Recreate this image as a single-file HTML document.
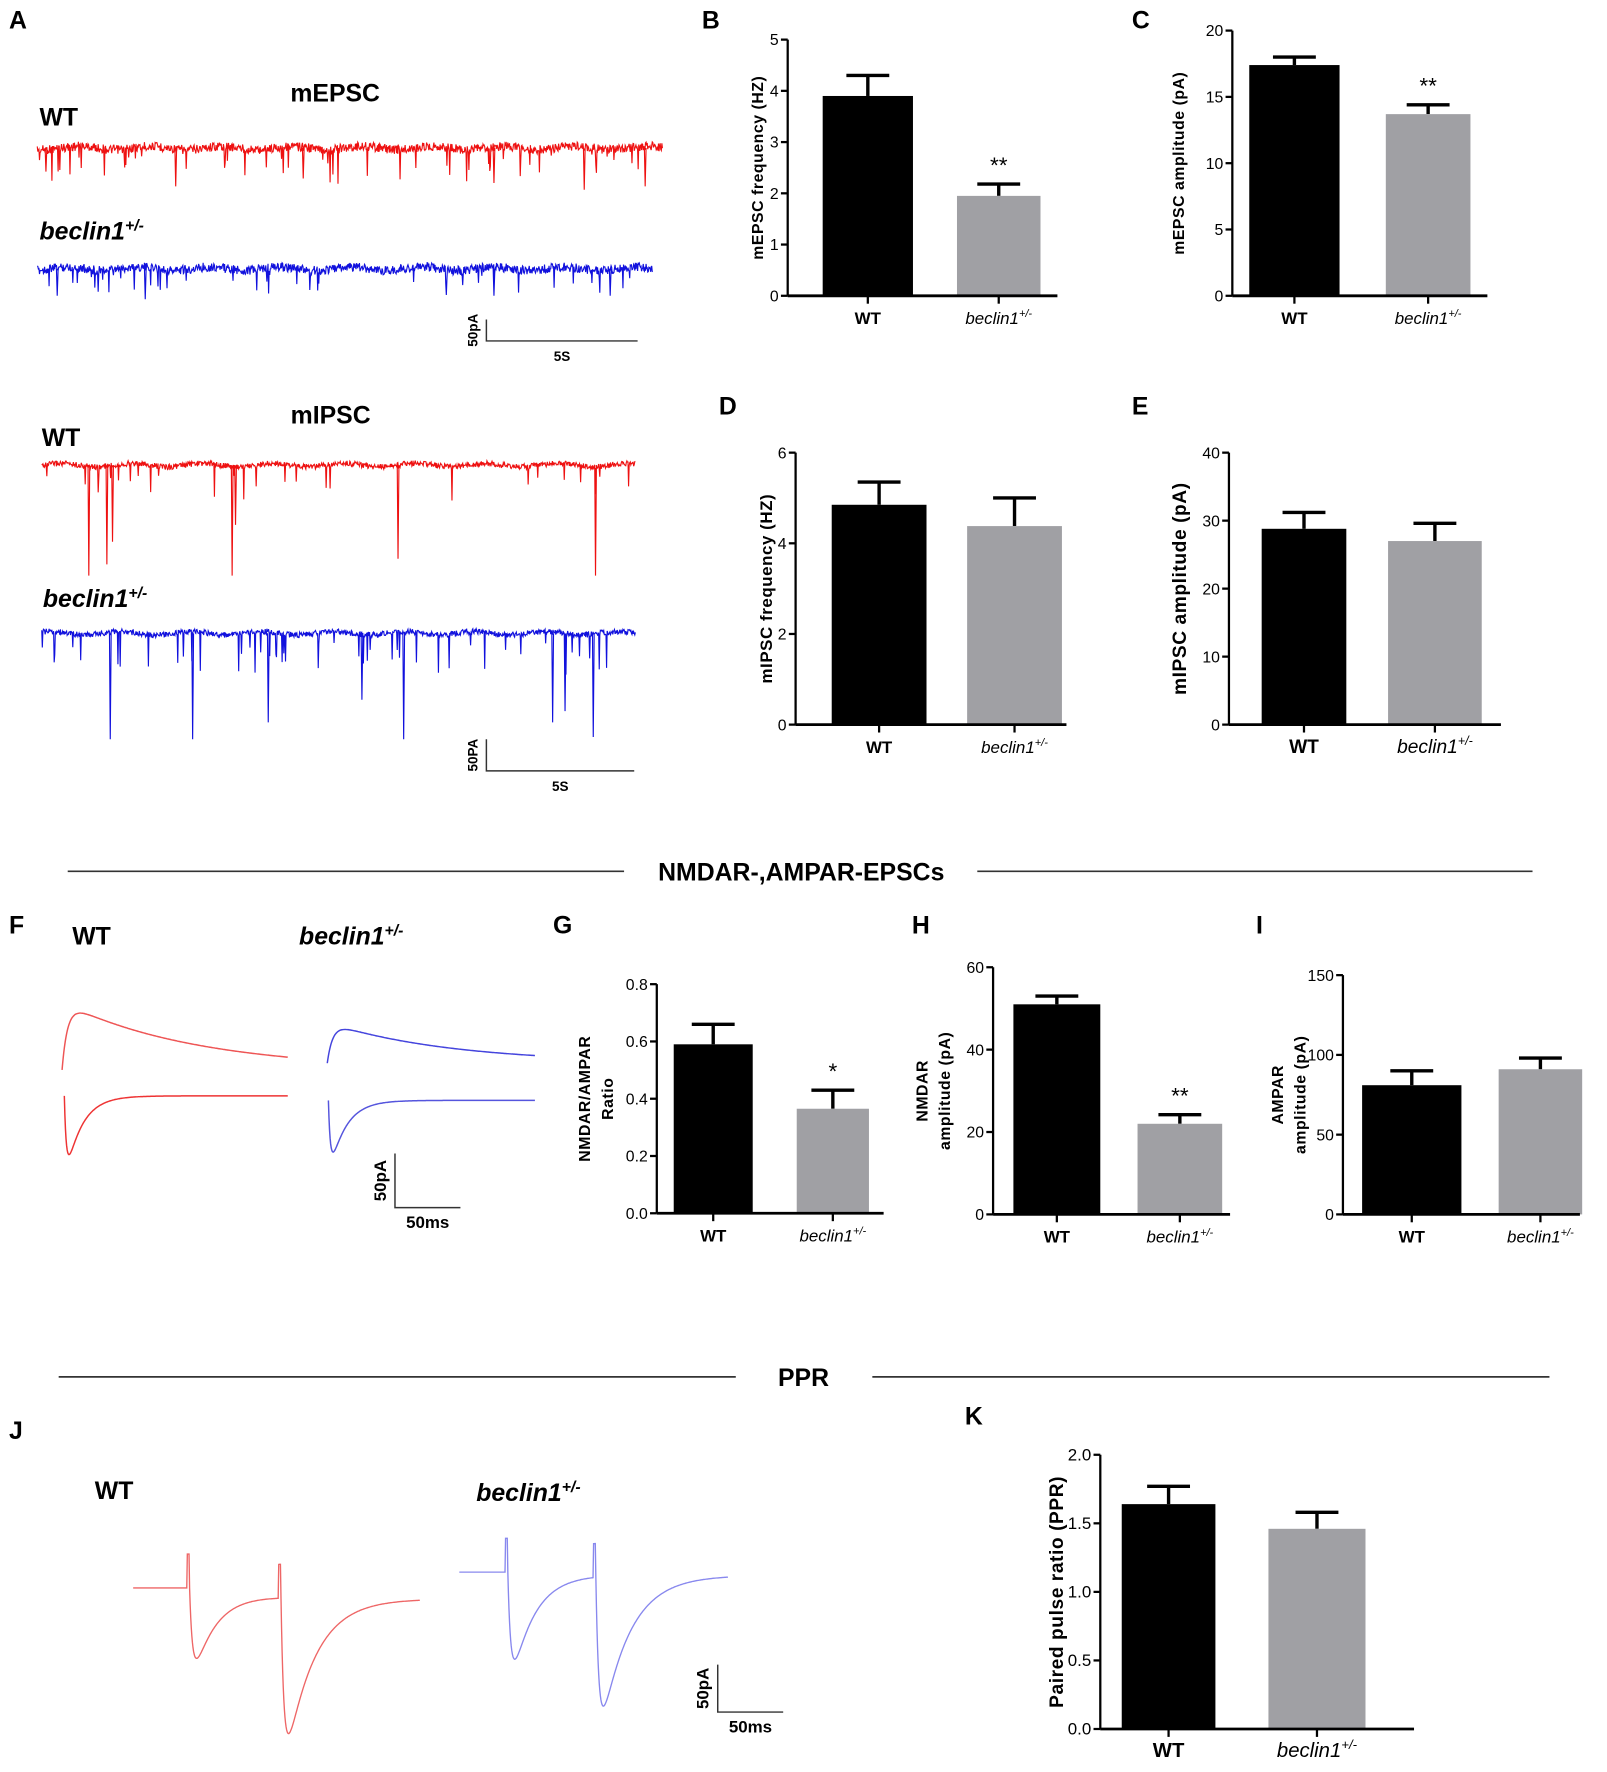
<!DOCTYPE html>
<html><head><meta charset="utf-8"><style>
html,body{margin:0;padding:0;background:#fff;}
svg{display:block;}
text{font-family:"Liberation Sans Narrow","Liberation Sans",sans-serif;}
</style></head><body>
<svg id="fig" width="1607" height="1772" viewBox="0 0 1424 1570" xmlns="http://www.w3.org/2000/svg"></svg>
<script>
// ---- data ----
const categories = ["WT", "beclin1"];
const mepscFreq = [3.9, 1.95];       const mepscFreqErr = [4.3, 2.18];
const mepscAmp = [17.4, 13.7];       const mepscAmpErr = [18.0, 14.4];
const mipscFreq = [4.85, 4.38];      const mipscFreqErr = [5.35, 5.0];
const mipscAmp = [28.8, 27.0];       const mipscAmpErr = [31.2, 29.6];
const nmdaRatio = [0.59, 0.365];     const nmdaRatioErr = [0.66, 0.43];
const nmdaAmp = [51, 22];            const nmdaAmpErr = [53, 24.2];
const ampaAmp = [81, 91];            const ampaAmpErr = [90, 98];
const pprVals = [1.64, 1.46];        const pprErr = [1.77, 1.58];
const ticksB = ["0","1","2","3","4","5"];
const ticksC = ["0","5","10","15","20"];
const ticksD = ["0","2","4","6"];
const ticksE = ["0","10","20","30","40"];
const ticksG = ["0.0","0.2","0.4","0.6","0.8"];
const ticksH = ["0","20","40","60"];
const ticksI = ["0","50","100","150"];
const ticksK = ["0.0","0.5","1.0","1.5","2.0"];

const svg = document.getElementById('fig');
const NS = "http://www.w3.org/2000/svg";
function el(tag, attrs, parent){const e=document.createElementNS(NS,tag);for(const k in attrs)e.setAttribute(k,attrs[k]);(parent||svg).appendChild(e);return e;}
function txt(s, x, y, size, opts, parent){
  opts=opts||{};
  const t=el('text',{x:x,y:y,'font-size':size,'text-anchor':opts.anchor||'start','font-weight':opts.weight||'bold',fill:'#000'},parent);
  if(opts.italic)t.setAttribute('font-style','italic');
  if(opts.family)t.setAttribute('font-family',opts.family);
  if(opts.rot)t.setAttribute('transform','rotate(-90 '+x+' '+y+')');
  t.textContent=s;return t;
}
function beclin(x,y,size,parent,family){
  const t=txt('beclin1',x,y,size,{italic:true,anchor:'middle',weight:'normal',family:family},parent);
  const ts=document.createElementNS(NS,'tspan');ts.setAttribute('dy',-size*0.4);ts.setAttribute('font-size',size*0.65);ts.textContent='+/-';t.appendChild(ts);
  return t;
}

function barChart(cfg){
  const g=el('g',{});
  
  
  const maxV=parseFloat(cfg.ticks[cfg.ticks.length-1]);
  const y=v=>cfg.yBot-(v/maxV)*(cfg.yBot-cfg.yTop);
  const fam=cfg.serif?'"Liberation Serif",serif':undefined;
  cfg.values.forEach((v,i)=>{
    const b=cfg.bars[i];
    const cx=(b[0]+b[1])/2;
    const eb=el('g',{},g);
    
    
    el('line',{x1:cx,x2:cx,y1:y(v),y2:y(cfg.errs[i]),stroke:'#000','stroke-width':3},eb);
    el('line',{x1:cx-19,x2:cx+19,y1:y(cfg.errs[i]),y2:y(cfg.errs[i]),stroke:'#000','stroke-width':3},eb);
    const r=el('rect',{x:b[0],y:y(v),width:b[1]-b[0],height:cfg.yBot-y(v),fill:i==0?'#000':'#a0a0a4'},g);
    
    
    if(i==1&&cfg.stars){txt(cfg.stars,cx,y(cfg.errs[i])-10,20,{anchor:'middle',weight:'normal'},g);}
    el('line',{x1:cx,x2:cx,y1:cfg.yBot,y2:cfg.yBot+7,stroke:'#000','stroke-width':2},g);
    if(i==0)txt('WT',cx,cfg.yBot+25,cfg.xls||15,{anchor:'middle',family:fam},g);
    else beclin(cx,cfg.yBot+25,cfg.xls||15,g,fam);
  });
  const ya=el('g',{},g);
  
  
  el('line',{x1:cfg.x0,x2:cfg.x0,y1:cfg.yTop,y2:cfg.yBot,stroke:'#000','stroke-width':2},ya);
  cfg.ticks.forEach(t=>{const v=parseFloat(t);el('line',{x1:cfg.x0-6,x2:cfg.x0,y1:y(v),y2:y(v),stroke:'#000','stroke-width':2},ya);txt(t,cfg.x0-8,y(v)+5,cfg.tls||14,{anchor:'end',weight:'normal'},ya);});
  const xa=el('line',{x1:cfg.x0,x2:cfg.xEnd,y1:cfg.yBot,y2:cfg.yBot,stroke:'#000','stroke-width':2.5},g);
  
  
  const cy=(cfg.yTop+cfg.yBot)/2;
  cfg.ylabel.forEach((l,k)=>{
    const t=txt(l,cfg.ylx+k*20,cy,cfg.yls||14,{anchor:'middle',rot:true,family:cfg.serif?'"Liberation Serif",serif':'"Liberation Sans",sans-serif'},g);
    t.setAttribute('letter-spacing','0.5');
    
    
  });
}

[['A',8,25],['B',622,25],['C',1003,25],['D',637,367],['E',1003,367],['F',8,827],['G',490,827],['H',808,827],['I',1113,827],['J',8,1275],['K',855,1262]].forEach(p=>{
  const t=txt(p[0],p[1],p[2],22,{});
  
  
});

barChart({name:'chart-b-mepsc-frequency',values:mepscFreq,errs:mepscFreqErr,ticks:ticksB,x0:698,yTop:35,yBot:262,xEnd:937,bars:[[729,809],[848,922]],stars:'**',ylabel:['mEPSC frequency (HZ)'],ylx:676});
barChart({name:'chart-c-mepsc-amplitude',values:mepscAmp,errs:mepscAmpErr,ticks:ticksC,x0:1092,yTop:27,yBot:262,xEnd:1318,bars:[[1107,1187],[1228,1303]],stars:'**',ylabel:['mEPSC amplitude (pA)'],ylx:1049});
barChart({name:'chart-d-mipsc-frequency',values:mipscFreq,errs:mipscFreqErr,ticks:ticksD,x0:705,yTop:401,yBot:642,xEnd:945,bars:[[737,821],[857,941]],ylabel:['mIPSC frequency (HZ)'],ylx:684,yls:15});
barChart({name:'chart-e-mipsc-amplitude',values:mipscAmp,errs:mipscAmpErr,ticks:ticksE,x0:1089,yTop:401,yBot:642,xEnd:1330,bars:[[1118,1193],[1230,1313]],ylabel:['mIPSC amplitude (pA)'],ylx:1051,serif:true,yls:17,xls:17});
barChart({name:'chart-g-nmdar-ampar-ratio',values:nmdaRatio,errs:nmdaRatioErr,ticks:ticksG,x0:582,yTop:872,yBot:1075,xEnd:783,bars:[[597,667],[706,770]],stars:'*',ylabel:['NMDAR/AMPAR','Ratio'],ylx:523,tls:14,xls:15});
barChart({name:'chart-h-nmdar-amplitude',values:nmdaAmp,errs:nmdaAmpErr,ticks:ticksH,x0:880,yTop:857,yBot:1076,xEnd:1090,bars:[[898,975],[1008,1083]],stars:'**',ylabel:['NMDAR','amplitude (pA)'],ylx:822});
barChart({name:'chart-i-ampar-amplitude',values:ampaAmp,errs:ampaAmpErr,ticks:ticksI,x0:1190,yTop:864,yBot:1076,xEnd:1400,bars:[[1207,1295],[1328,1402]],ylabel:['AMPAR','amplitude (pA)'],ylx:1137,serif:true,tls:14});
barChart({name:'chart-k-paired-pulse-ratio',values:pprVals,errs:pprErr,ticks:ticksK,x0:975,yTop:1289,yBot:1532,xEnd:1253,bars:[[994,1077],[1124,1210]],ylabel:['Paired pulse ratio (PPR)'],ylx:942,yls:17,tls:15,xls:18});

function divider(name,x1,x2,x3,x4,yy,label,cx,size,fam){
  const g=el('g',{});
  el('line',{x1:x1,x2:x2,y1:yy,y2:yy,stroke:'#333','stroke-width':1.5},g);
  el('line',{x1:x3,x2:x4,y1:yy,y2:yy,stroke:'#333','stroke-width':1.5},g);
  txt(label,cx,yy+8,size,{anchor:'middle',family:fam},g);
}
divider('nmdar-ampar-section-divider',60,553,866,1358,772,'NMDAR-,AMPAR-EPSCs',710,22);
divider('ppr-section-divider',52,652,773,1373,1220,'PPR',712,22,'"Liberation Serif",serif');

[['mEPSC',297,90,22,'middle'],['WT',35,111,22,'start'],['mIPSC',293,375,22,'middle'],['WT',37,395,22,'start'],['WT',64,837,22,'start'],['WT',84,1328,22,'start']].forEach(l=>{
  const t=txt(l[0],l[1],l[2],l[3],{anchor:l[4]});
  
  
});
[[35,212],[38,538],[265,837],[422,1330]].forEach(p=>{
  const t=txt('beclin1',p[0],p[1],22,{italic:true});
  const ts=document.createElementNS(NS,'tspan');ts.setAttribute('dy',-8);ts.setAttribute('font-size',14);ts.textContent='+/-';t.appendChild(ts);
  
  
});

function scaleBar(name,x,y1,y2,x2,vl,hl,font){
  const g=el('g',{});
  el('path',{d:`M${x} ${y1}V${y2}H${x2}`,fill:'none',stroke:'#333','stroke-width':1.3},g);
  txt(vl,x-8,(y1+y2)/2,font,{anchor:'middle',rot:true,family:'"Liberation Sans",sans-serif'},g);
  txt(hl,(x+x2)/2,y2+18,font,{anchor:'middle'},g);
}
scaleBar('mepsc-scale-bar',431,283,302,565,'50pA','5S',12);
scaleBar('mipsc-scale-bar',431,655,683,562,'50PA','5S',12);
scaleBar('nmdar-scale-bar',350,1022,1070,408,'50pA','50ms',15);
scaleBar('ppr-scale-bar',636,1475,1517,694,'50pA','50ms',15);

// ---- traces (illustrative) ----
function hash(i,s){const v=Math.sin(i*12.9898+s*78.233)*43758.5453;return v-Math.floor(v);}
function spont(name,x1,x2,base,color,small,bigSpikes,seed,amp,rate){
  let d='';const n=Math.round((x2-x1)*2);
  for(let i=0;i<=n;i++){
    const x=x1+i/2;let yv=base+(hash(i,seed)-0.5)*amp+Math.sin(i*0.05+seed)*1.5;
    if(hash(i,seed+7)<rate)yv+=small*(0.3+hash(i,seed+11));
    d+=(i?'L':'M')+x.toFixed(1)+' '+yv.toFixed(1);
  }
  bigSpikes.forEach(s=>{d+=`M${s[0]} ${base}L${s[0]+0.7} ${s[1]}L${s[0]+1.5} ${base}`;});
  const p=el('path',{d:d,fill:'none',stroke:color,'stroke-width':1});
  
  
}
spont('mepsc-wt-trace',33,587,131,'#ee1111',22,[[155,165],[437,162],[517,168],[571,165],[268,158],[40,152]],1,8,0.05);
spont('mepsc-beclin-trace',33,578,238,'#1111dd',16,[[50,262],[128,265],[437,262],[540,262]],2,8,0.05);
spont('mipsc-wt-trace',37,563,412,'#ee1111',22,[[78,510],[94,500],[205,510],[352,495],[527,510],[99,480],[208,465]],3,5,0.04);
spont('mipsc-beclin-trace',37,563,561,'#1111dd',30,[[97,655],[170,655],[237,640],[357,655],[320,620],[525,653],[489,640],[500,630]],4,5,0.05);

function evokedFn(name,color,x1,x2,f,w){
  let d='';for(let x=x1;x<=x2;x+=0.5){d+=(x==x1?'M':'L')+x.toFixed(1)+' '+f(x).toFixed(1);}
  const p=el('path',{d:d,fill:'none',stroke:color,'stroke-width':w||1.3});
  
  
}
// NMDA (outward slow) and AMPA (inward fast) shapes
function slowUp(x,x0,base,peak,tr,td){const t=x-x0;if(t<0)return base;return base-peak*(1-Math.exp(-t/tr))*Math.exp(-t/td)*1.5;}
function fastDown(x,x0,base,peak,tr,td){const t=x-x0;if(t<0)return base;return base+peak*(1-Math.exp(-t/tr))*Math.exp(-t/td)*1.6;}
evokedFn('nmdar-wt-trace','#ee5555',55,255,x=>slowUp(x,55,948,40,5,120));
evokedFn('ampar-wt-trace','#ee3333',57,255,x=>fastDown(x,57,971,50,2,14));
evokedFn('nmdar-beclin-trace','#4444dd',290,474,x=>slowUp(x,290,942,24,5,110));
evokedFn('ampar-beclin-trace','#5555dd',291,474,x=>fastDown(x,291,975,44,2,14));
function ppr(x,x0,xa,xb,base,p1,p2,tail){
  let y=base;
  const sp=(xs)=>(x>=xs&&x<xs+2)?-30:0;
  y+=sp(xa)+sp(xb);
  y=fastDown(x,xa+2,y,p1,3,20)-0;
  y=y+ (x>xb+2? (fastDown(x,xb+2,0,p2,3,25)):0);
  if(x>xa+2)y+= tail*(1-Math.exp(-(x-xa-2)/60));
  return y;
}
evokedFn('ppr-wt-trace','#ee6666',118,372,x=>ppr(x,118,166,247,1407,60,110,10),1.2);
evokedFn('ppr-beclin-trace','#8888ee',407,645,x=>ppr(x,407,448,526,1393,75,105,3),1.2);
</script>
</body></html>
